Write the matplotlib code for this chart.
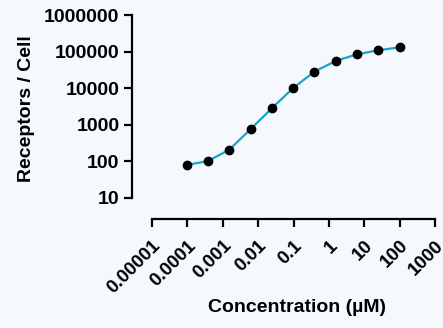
import matplotlib
matplotlib.use("Agg")
import matplotlib.pyplot as plt
from matplotlib.ticker import FixedLocator, NullLocator

# data (4-fold dilution series)
concentration = [0.0000954, 0.000381, 0.00153, 0.0061, 0.0244, 0.0977,
                 0.39, 1.5625, 6.25, 25, 100]
receptors = [80, 102, 209, 757, 2830, 10100, 28300, 55600, 84300, 108600, 131000]

x_ticks = [1e-5, 1e-4, 1e-3, 1e-2, 1e-1, 1, 10, 100, 1000]
x_tick_labels = ["0.00001", "0.0001", "0.001", "0.01", "0.1", "1", "10", "100", "1000"]
y_ticks = [10, 100, 1000, 10000, 100000, 1000000]
y_tick_labels = ["10", "100", "1000", "10000", "100000", "1000000"]

bg = "#F5F9FD"
plt.rcParams['font.family'] = ['Liberation Sans', 'DejaVu Sans']

fig = plt.figure(figsize=(4.43, 3.28), dpi=100, facecolor=bg)
ax = fig.add_axes([152 / 443, 1 - 198 / 328, 283 / 443, 183 / 328])
ax.set_facecolor(bg)

# offset spines first (set_position resets the ticks); offsets are in points
for side in ["top", "right"]:
    ax.spines[side].set_visible(False)
ax.spines["left"].set_position(("outward", 14.4))
ax.spines["bottom"].set_position(("outward", 15.1))
for side in ["left", "bottom"]:
    ax.spines[side].set_linewidth(1.6)

ax.plot(concentration, receptors, color="#1AA3C7", lw=1.6, zorder=2)
ax.scatter(concentration, receptors, s=36, color="black", zorder=3)

ax.set_xscale("log")
ax.set_yscale("log")
ax.set_xlim(1e-5, 1e3)
ax.set_ylim(10, 1e6)

ax.xaxis.set_major_locator(FixedLocator(x_ticks))
ax.xaxis.set_minor_locator(NullLocator())
ax.yaxis.set_major_locator(FixedLocator(y_ticks))
ax.yaxis.set_minor_locator(NullLocator())
ax.set_xticklabels(x_tick_labels, rotation=45, ha="right", va="top",
                   rotation_mode="anchor", fontsize=13.5, fontweight="bold")
ax.set_yticklabels(y_tick_labels, fontsize=14, fontweight="bold")
ax.tick_params(width=1.6, length=6, color="black")
ax.tick_params(axis="y", pad=3)
ax.tick_params(axis="x", pad=7)

ax.set_ylabel("Receptors / Cell", fontsize=14, fontweight="bold", va="center")
ax.yaxis.set_label_coords((26.5 - 152) / 283, 0.49)
ax.set_xlabel("Concentration (µM)", fontsize=14, fontweight="bold", va="center")
ax.xaxis.set_label_coords((297 - 152) / 283, (198 - 307) / 183)

fig.savefig("out.png", dpi=100, facecolor=bg)
